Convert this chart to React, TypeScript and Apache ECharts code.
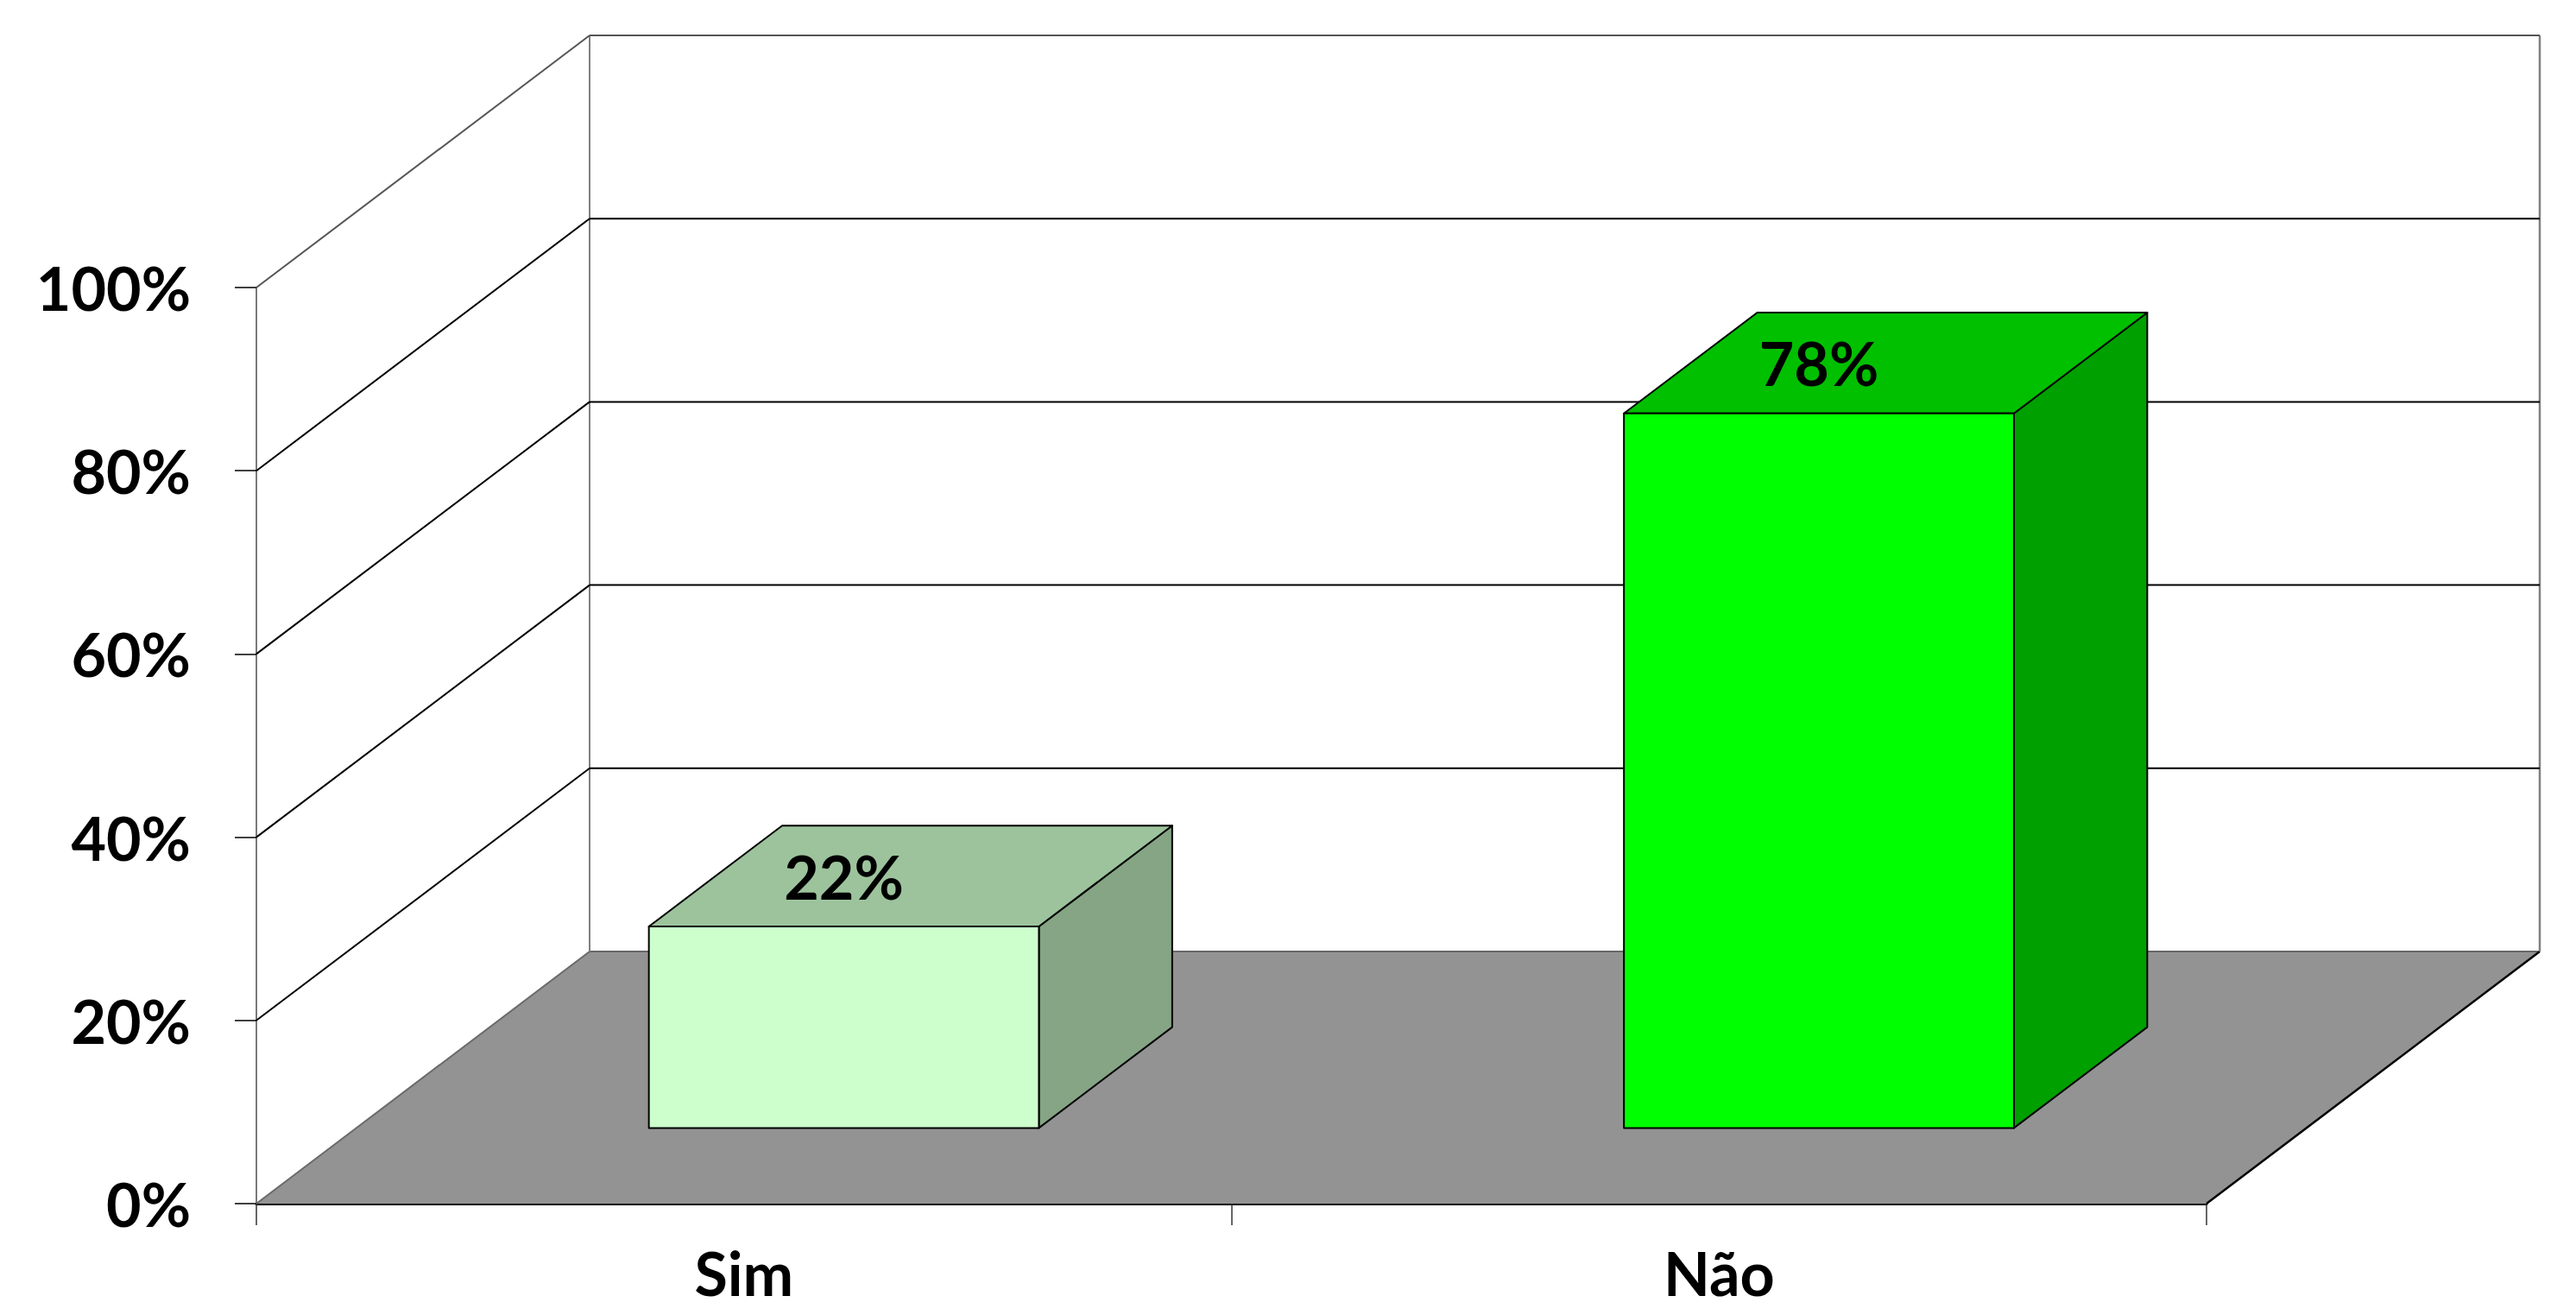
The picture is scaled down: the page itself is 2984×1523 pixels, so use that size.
import React, { useEffect, useRef } from "react";
import * as echarts from "echarts";

const categories = ["Sim", "Não"];
const values = [22, 78];
const valueLabels = ["22%", "78%"];
const yTicks = [0, 20, 40, 60, 80, 100];
const frontColors = ["#CCFFCC", "#00FF00"];
const topColors = ["#9DC39D", "#00C000"];
const sideColors = ["#85A585", "#00A000"];

const DEPTH_X = 386;
const DEPTH_Y = -292;
const BAR_DEPTH_START = 0.3;
const BAR_DEPTH_END = 0.7;
const BAR_WIDTH_FRAC = 0.4;
const FONT = "Lato, 'Open Sans', sans-serif";
const FONT_SIZE = 70;

export default function App() {
  const ref = useRef<HTMLDivElement>(null);
  useEffect(() => {
    const chart = echarts.init(ref.current as HTMLDivElement, null, { renderer: "svg" });

    const wallsItem = (params: any, api: any) => {
      const cs = params.coordSys;
      const v = api.value(1);
      const y = api.coord([0, v])[1];
      const xL = cs.x;
      const xR = cs.x + cs.width;
      const children: any[] = [];
      if (v === 0) {
        const yTop = api.coord([0, yTicks[yTicks.length - 1]])[1];
        children.push({
          type: "polygon",
          shape: { points: [[xL, y], [xR, y], [xR + DEPTH_X, y + DEPTH_Y], [xL + DEPTH_X, y + DEPTH_Y]] },
          style: { fill: "#939393", stroke: null },
        });
        children.push({
          type: "line",
          shape: { x1: xL + DEPTH_X, y1: y + DEPTH_Y, x2: xR + DEPTH_X, y2: y + DEPTH_Y },
          style: { stroke: "#666666", lineWidth: 2 },
        });
        children.push({
          type: "line",
          shape: { x1: xL, y1: y, x2: xL + DEPTH_X, y2: y + DEPTH_Y },
          style: { stroke: "#6a6a6a", lineWidth: 2 },
        });
        children.push({
          type: "line",
          shape: { x1: xR, y1: y, x2: xR + DEPTH_X, y2: y + DEPTH_Y },
          style: { stroke: "#000", lineWidth: 2.5 },
        });
        children.push({
          type: "line",
          shape: { x1: xL + DEPTH_X, y1: y + DEPTH_Y, x2: xL + DEPTH_X, y2: yTop + DEPTH_Y },
          style: { stroke: "#808080", lineWidth: 2 },
        });
        children.push({
          type: "line",
          shape: { x1: xR + DEPTH_X, y1: y + DEPTH_Y, x2: xR + DEPTH_X, y2: yTop + DEPTH_Y },
          style: { stroke: "#808080", lineWidth: 2.5 },
        });
      } else {
        const isTop = v === yTicks[yTicks.length - 1];
        const col = isTop ? "#555555" : "#000000";
        children.push({
          type: "line",
          shape: { x1: xL, y1: y, x2: xL + DEPTH_X, y2: y + DEPTH_Y },
          style: { stroke: col, lineWidth: 2 },
        });
        children.push({
          type: "line",
          shape: { x1: xL + DEPTH_X, y1: y + DEPTH_Y, x2: xR + DEPTH_X, y2: y + DEPTH_Y },
          style: { stroke: col, lineWidth: 2 },
        });
      }
      return { type: "group", children };
    };

    const barItem = (params: any, api: any) => {
      const i = api.value(0);
      const v = api.value(1);
      const c0 = api.coord([i, 0]);
      const c1 = api.coord([i, v]);
      const catW = api.size([1, 0])[0];
      const halfW = (catW * BAR_WIDTH_FRAC) / 2;
      const fx = DEPTH_X * BAR_DEPTH_START;
      const fy = DEPTH_Y * BAR_DEPTH_START;
      const bx = DEPTH_X * BAR_DEPTH_END;
      const by = DEPTH_Y * BAR_DEPTH_END;
      const dx = bx - fx;
      const dy = by - fy;
      const l = c0[0] - halfW + fx;
      const r = c0[0] + halfW + fx;
      const t = c1[1] + fy;
      const b = c0[1] + fy;
      const stroke = { stroke: "#000", lineWidth: 2, lineJoin: "round" };
      return {
        type: "group",
        children: [
          {
            type: "polygon",
            shape: { points: [[r, t], [r, b], [r + dx, b + dy], [r + dx, t + dy]] },
            style: { fill: sideColors[i], ...stroke },
          },
          {
            type: "polygon",
            shape: { points: [[l, t], [r, t], [r + dx, t + dy], [l + dx, t + dy]] },
            style: { fill: topColors[i], ...stroke },
          },
          {
            type: "rect",
            shape: { x: l, y: t, width: r - l, height: b - t },
            style: { fill: frontColors[i], ...stroke },
          },
          {
            type: "text",
            style: {
              text: valueLabels[i],
              x: c0[0] + fx,
              y: t + dy / 2,
              align: "center",
              verticalAlign: "middle",
              fill: "#000",
              fontSize: FONT_SIZE,
              fontWeight: "bold",
              fontFamily: FONT,
            },
          },
        ],
      };
    };

    const option: any = {
      animation: false,
      backgroundColor: "#ffffff",
      grid: { left: 297, top: 333, width: 2259, height: 1061, containLabel: false },
      xAxis: {
        type: "category",
        data: categories,
        boundaryGap: true,
        axisLine: { show: true, lineStyle: { color: "#000", width: 3 } },
        axisTick: { show: true, length: 25, alignWithLabel: false, lineStyle: { color: "#333", width: 1.5 } },
        axisLabel: {
          fontFamily: FONT,
          fontWeight: "bold",
          fontSize: FONT_SIZE,
          lineHeight: 50,
          color: "#000",
          margin: 55,
        },
        splitLine: { show: false },
      },
      yAxis: {
        type: "value",
        min: 0,
        max: 100,
        interval: 20,
        axisLine: { show: true, lineStyle: { color: "#7a7a7a", width: 2 } },
        axisTick: { show: true, length: 25, lineStyle: { color: "#000", width: 1.5 } },
        axisLabel: {
          formatter: "{value}%",
          fontFamily: FONT,
          fontWeight: "bold",
          fontSize: FONT_SIZE,
          color: "#000",
          margin: 76,
        },
        splitLine: { show: false },
      },
      series: [
        {
          type: "custom",
          name: "walls",
          renderItem: wallsItem,
          data: yTicks.map((v) => [0, v]),
          encode: { x: 0, y: 1 },
          clip: false,
          silent: true,
          z: 1,
        },
        {
          type: "custom",
          name: "bars",
          renderItem: barItem,
          data: values.map((v, i) => [i, v]),
          encode: { x: 0, y: 1 },
          clip: false,
          z: 3,
        },
      ],
    };
    chart.setOption(option);
    return () => chart.dispose();
  }, []);

  return (
    <div
      ref={ref}
      style={{ position: "fixed", left: 0, top: 0, width: 2984, height: 1523, background: "#fff" }}
    />
  );
}
